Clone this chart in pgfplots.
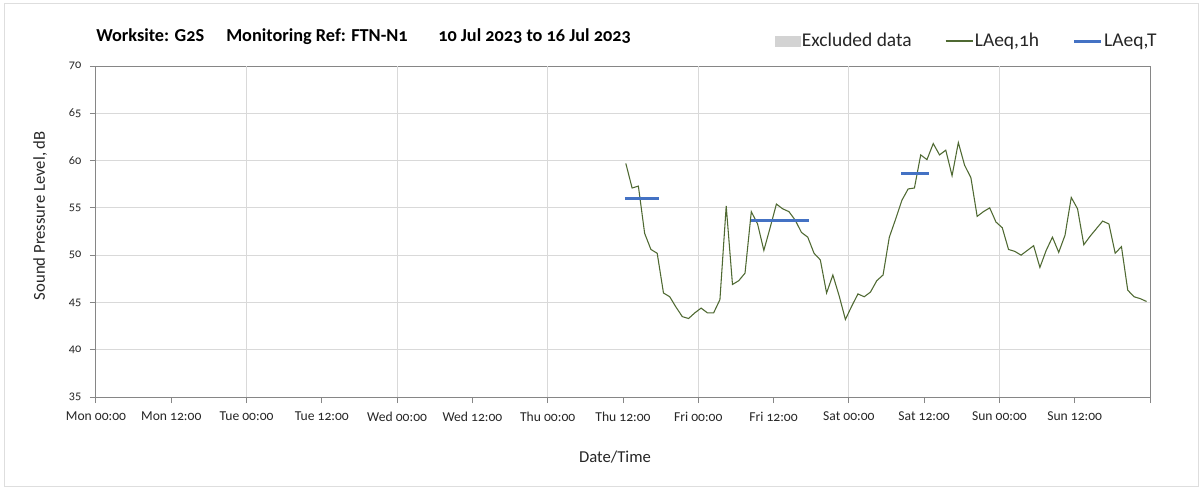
\documentclass[border=0pt]{standalone}
\usepackage{fontspec}
\setmainfont{Carlito}[Numbers=OldStyle]
\usepackage{pgfplots}
\pgfplotsset{compat=1.18}
\definecolor{lgreen}{RGB}{79,105,50}
\definecolor{lblue}{RGB}{68,114,196}
\definecolor{gridc}{RGB}{217,217,217}
\definecolor{axisc}{RGB}{134,134,134}
\definecolor{exclc}{RGB}{211,211,211}
\definecolor{framec}{RGB}{222,222,222}

\pgfplotstableread{
h v
84.45 59.7
85.45 57.1
86.45 57.3
87.45 52.3
88.45 50.6
89.45 50.2
90.45 46.0
91.45 45.6
92.45 44.5
93.45 43.5
94.45 43.3
95.45 43.9
96.45 44.4
97.45 43.9
98.45 43.9
99.45 45.3
100.45 55.2
101.45 46.9
102.45 47.3
103.45 48.1
104.45 54.6
105.45 53.3
106.45 50.5
107.45 52.9
108.45 55.4
109.45 54.9
110.45 54.6
111.45 53.7
112.45 52.4
113.45 51.9
114.45 50.2
115.45 49.5
116.45 46.0
117.45 47.9
118.45 45.7
119.45 43.2
120.45 44.6
121.45 45.9
122.45 45.6
123.45 46.1
124.45 47.3
125.45 47.9
126.45 51.9
127.45 53.8
128.45 55.8
129.45 57.0
130.45 57.1
131.45 60.6
132.45 60.1
133.45 61.8
134.45 60.6
135.45 61.1
136.45 58.4
137.45 61.9
138.45 59.5
139.45 58.2
140.45 54.1
141.45 54.6
142.45 55.0
143.45 53.5
144.45 52.9
145.45 50.6
146.45 50.4
147.45 50.0
148.45 50.5
149.45 51.0
150.45 48.7
151.45 50.5
152.45 51.9
153.45 50.3
154.45 52.1
155.45 56.1
156.45 54.9
157.45 51.1
158.45 52.0
159.45 52.8
160.45 53.6
161.45 53.3
162.45 50.2
163.45 50.9
164.45 46.3
165.45 45.6
166.45 45.4
167.45 45.1
}\hourly

\begin{document}
\begin{tikzpicture}
\path[fill=white] (0,0) rectangle (902.25pt,367.5pt);
\draw[framec, line width=0.75pt] (3.375pt,2.625pt) rectangle (898.875pt,364.875pt);
\begin{axis}[
  at={(72pt,69.75pt)}, anchor=south west,
  scale only axis, width=790.5pt, height=248.25pt,
  xmin=0, xmax=168, ymin=35, ymax=70,
  xtick={0,12,...,168},
  xticklabels={Mon 00:00, Mon 12:00, Tue 00:00, Tue 12:00, Wed 00:00, Wed 12:00, Thu 00:00, Thu 12:00, Fri 00:00, Fri 12:00, Sat 00:00, Sat 12:00, Sun 00:00, Sun 12:00, {}},
  extra x ticks={24,48,72,96,120,144},
  extra x tick labels={,,,,,},
  extra x tick style={grid=major, major tick length=0pt},
  ytick={35,40,...,70},
  ymajorgrids,
  grid style={gridc, line width=0.75pt},
  tick align=outside, tick pos=left, major tick length=4.5pt,
  tick style={axisc, line width=0.75pt},
  axis line style={axisc, line width=0.75pt},
  /pgf/number format/assume math mode=true,
  xticklabel style={font=\fontsize{10.2}{12}\selectfont, text=black!85, yshift=-3pt},
  yticklabel style={font=\fontsize{9.2}{11}\selectfont, text=black!85, xshift=-3pt},
  xlabel={Date/Time},
  ylabel={Sound Pressure Level, dB},
  label style={font=\fontsize{12.5}{15}\selectfont, text=black!85},
  xlabel style={at={(axis description cs:0.4924,-0.1813)}, anchor=center},
  ylabel style={at={(axis description cs:-0.053,0.548)}, anchor=center, rotate=0},
  legend image code/.code={\draw[#1] (0pt,0pt) -- (20.5pt,0pt);},
  legend style={draw=none, fill=none, legend columns=3,
    at={(0.6445,1.0755)}, anchor=west,
    font=\fontsize{14.6}{16}\selectfont, text=black!85,
    inner sep=0pt, outer sep=0pt,
    nodes={inner sep=1pt},
    /tikz/every even column/.append style={column sep=24pt}},
  legend cell align=left,
  clip=false,
]
\addlegendimage{legend image code/.code={\fill[exclc] (0pt,-3.75pt) rectangle (18.5pt,3.75pt);}}
\addlegendentry{Excluded data}
\addplot[lgreen, line width=0.8pt] table[x=h, y=v] {\hourly};
\addlegendentry{LAeq,1h}
\addplot[lblue, line width=2.25pt] coordinates {(84.3,56.0) (89.7,56.0)};
\addlegendentry{LAeq,T}
\addplot[lblue, line width=2.25pt, forget plot] coordinates {(104.47,53.65) (113.64,53.65)};
\addplot[lblue, line width=2.25pt, forget plot] coordinates {(128.36,58.6) (132.71,58.6)};
\end{axis}
\node[anchor=base west, inner sep=0pt, font=\fontsize{13.7}{15}\selectfont\bfseries] at (72pt,336.4pt) {Worksite: G2S};
\node[anchor=base west, inner sep=0pt, font=\fontsize{13.7}{15}\selectfont\bfseries] at (169.5pt,336.4pt) {Monitoring Ref: FTN-N1};
\node[anchor=base west, inner sep=0pt, font=\fontsize{13.7}{15}\selectfont\bfseries] at (328.5pt,336.4pt) {10 Jul 2023 to 16 Jul 2023};
\end{tikzpicture}
\end{document}
